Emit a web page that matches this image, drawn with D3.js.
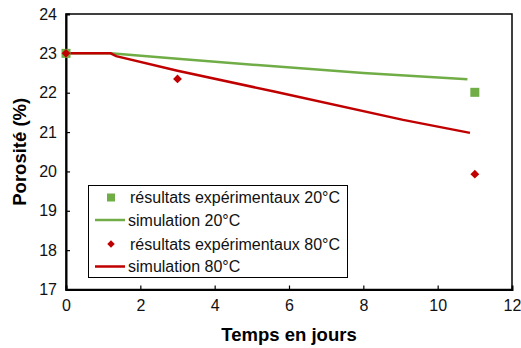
<!DOCTYPE html>
<html><head><meta charset="utf-8">
<script src="https://cdn.jsdelivr.net/npm/d3@7/dist/d3.min.js"></script>
<style>body{margin:0;background:#fff}svg{display:block}</style>
</head><body>
<script>
const xTicks = [0,2,4,6,8,10,12];
const yTicks = [17,18,19,20,21,22,23,24];
const exp20 = [[0,23.0],[11,22.01]];
const sim20 = [[0,23.0],[1.2,23.0],[3,22.86],[5.6,22.67],[8,22.5],[10.8,22.34]];
const exp80 = [[0,23.0],[3,22.35],[11,19.93]];
const sim80 = [[0,23.0],[1.2,23.0],[1.35,22.93],[3,22.56],[5.6,22.03],[9.07,21.31],[10.87,20.98]];
const legendLabels = ["résultats expérimentaux 20°C","simulation 20°C","résultats expérimentaux 80°C","simulation 80°C"];
const green = "#70AD47", red = "#C00000";

const W=521,H=348;
const svg=d3.select("body").append("svg").attr("width",W).attr("height",H);
const L=66,R=512,T=14,B=289.5;
const x=d3.scaleLinear().domain([0,12]).range([L,R]);
const y=d3.scaleLinear().domain([17,24]).range([B,T]);
const font="Liberation Sans, Arial, sans-serif";

svg.append("rect").attr("x",L).attr("y",T).attr("width",R-L).attr("height",B-T)
  .attr("fill","none").attr("stroke","#000").attr("stroke-width",1.5);

const xa=svg.append("g").attr("transform",`translate(0,${B})`)
  .call(d3.axisBottom(x).tickValues(xTicks).tickSize(-4).tickPadding(10).tickFormat(d3.format("d")));
const ya=svg.append("g").attr("transform",`translate(${L},0)`)
  .call(d3.axisLeft(y).tickValues(yTicks).tickSize(-4).tickPadding(9).tickFormat(d3.format("d")));
[xa,ya].forEach(a=>{
  a.select(".domain").attr("stroke","#000").attr("stroke-width",2);
  a.selectAll(".tick line").attr("stroke","#000").attr("stroke-width",1.2);
  a.selectAll("text").attr("font-family",font).attr("font-size",16).attr("fill","#111");
});
xa.selectAll(".tick").filter(d=>d===0||d===12).select("line").remove();
ya.selectAll(".tick").filter(d=>d===17||d===24).select("line").remove();

const line=d3.line().x(d=>x(d[0])).y(d=>y(d[1]));
svg.append("path").datum(sim20).attr("d",line).attr("fill","none").attr("stroke",green).attr("stroke-width",2.5);
svg.append("path").datum(sim80).attr("d",line).attr("fill","none").attr("stroke",red).attr("stroke-width",2.5);

const sq=9;
svg.selectAll(".sq").data(exp20).enter().append("rect")
  .attr("x",d=>x(d[0])-sq/2).attr("y",d=>y(d[1])-sq/2).attr("width",sq).attr("height",sq).attr("fill",green);
const diamond=d3.symbol().type(d3.symbolDiamond2).size(50);
svg.selectAll(".dm").data(exp80).enter().append("path")
  .attr("transform",d=>`translate(${x(d[0])},${y(d[1])})`).attr("d",diamond).attr("fill",red);

svg.append("text").attr("x",(L+R)/2).attr("y",341).attr("text-anchor","middle")
  .attr("font-family",font).attr("font-weight","bold").attr("font-size",18.5).text("Temps en jours");
svg.append("text").attr("transform",`translate(26,${(T+B)/2}) rotate(-90)`).attr("text-anchor","middle")
  .attr("font-family",font).attr("font-weight","bold").attr("font-size",18.5).text("Porosité (%)");

const lg=svg.append("g");
lg.append("rect").attr("x",88.5).attr("y",185.5).attr("width",259).attr("height",92)
  .attr("fill","#fff").attr("stroke","#000").attr("stroke-width",1);
const rows=[197.5,220,244,266.5];
legendLabels.forEach((t,i)=>{
  const cy=rows[i];
  if(i===0) lg.append("rect").attr("x",111-4).attr("y",cy-4).attr("width",8).attr("height",8).attr("fill",green);
  if(i===2) lg.append("path").attr("transform",`translate(111,${cy})`).attr("d",d3.symbol().type(d3.symbolDiamond2).size(36)).attr("fill",red);
  if(i===1||i===3) lg.append("line").attr("x1",95).attr("x2",125).attr("y1",cy).attr("y2",cy)
    .attr("stroke",i===1?green:red).attr("stroke-width",2.5);
  lg.append("text").attr("x",i%2===0?130:128).attr("y",cy+5.5).attr("font-family",font).attr("font-size",16)
    .attr("fill","#111").text(t);
});
</script>
</body></html>
